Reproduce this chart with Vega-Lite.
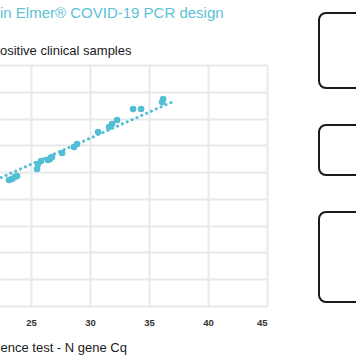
{
  "$schema": "https://vega.github.io/schema/vega-lite/v6.json",
  "padding": {"left": 0, "top": 6, "right": 0, "bottom": 0},
  "config": {"font": "Liberation Sans"},
  "title": {
    "text": "in Elmer® COVID-19 PCR design",
    "anchor": "start",
    "frame": "bounds",
    "fontSize": 15,
    "fontWeight": "normal",
    "color": "#5BC2D4",
    "offset": -9
  },
  "datasets": {
    "points": [
      {"ref": 23.13, "test": 23.53},
      {"ref": 23.39, "test": 23.71},
      {"ref": 23.64, "test": 24.09},
      {"ref": 23.81, "test": 24.27},
      {"ref": 25.51, "test": 25.58},
      {"ref": 25.59, "test": 26.51},
      {"ref": 25.85, "test": 27.07},
      {"ref": 26.44, "test": 27.26},
      {"ref": 26.61, "test": 27.45},
      {"ref": 26.78, "test": 27.82},
      {"ref": 27.63, "test": 28.57},
      {"ref": 28.65, "test": 29.69},
      {"ref": 28.90, "test": 30.25},
      {"ref": 30.68, "test": 32.49},
      {"ref": 31.62, "test": 33.42},
      {"ref": 31.87, "test": 33.98},
      {"ref": 32.29, "test": 34.73},
      {"ref": 33.65, "test": 36.78},
      {"ref": 34.33, "test": 36.78},
      {"ref": 36.11, "test": 38.09},
      {"ref": 36.20, "test": 38.65}
    ],
    "trend": [
      {"ref": 20.0, "test": 21.59},
      {"ref": 36.96, "test": 38.1}
    ]
  },
  "spacing": 51,
  "hconcat": [
    {
      "spacing": 31,
      "vconcat": [
        {"width": 267, "height": 1, "data": {"values": []}, "mark": "point", "encoding": {}, "view": {"stroke": null}},
        {
          "width": 267,
          "height": 241,
          "view": {"stroke": null},
          "title": {
            "text": "ositive clinical samples",
            "anchor": "start",
            "frame": "group",
            "fontSize": 13,
            "fontWeight": "normal",
            "color": "#1a1a1a",
            "offset": 7
          },
          "encoding": {
            "x": {
              "field": "ref", "type": "quantitative",
              "scale": {"domain": [22.37, 45], "nice": false, "zero": false},
              "axis": {
                "values": [25, 30, 35, 40, 45],
                "title": "ence test - N gene Cq",
                "titleAnchor": "start",
                "titleFontSize": 13,
                "titleFontWeight": "normal",
                "titleColor": "#1a1a1a",
                "titlePadding": 15,
                "domain": false,
                "ticks": false,
                "labelFontSize": 9.5,
                "labelFontWeight": "bold",
                "labelColor": "#333333",
                "labelPadding": 11,
                "grid": true,
                "gridColor": "#E6E9EA",
                "gridWidth": 2
              }
            },
            "y": {
              "field": "test", "type": "quantitative",
              "scale": {"domain": [0, 45], "nice": false},
              "axis": {
                "values": [0, 5, 10, 15, 20, 25, 30, 35, 40, 45],
                "title": null,
                "labels": false,
                "ticks": false,
                "domain": false,
                "grid": true,
                "gridColor": "#E6E9EA",
                "gridWidth": 2
              }
            }
          },
          "layer": [
            {
              "data": {"name": "trend"},
              "mark": {"type": "line", "clip": true, "color": "#52BED4", "strokeWidth": 3, "strokeDash": [0.1, 5.2], "strokeCap": "round"}
            },
            {
              "data": {"name": "points"},
              "mark": {"type": "circle", "clip": true, "size": 44, "opacity": 1, "color": "#52BED4"}
            }
          ]
        }
      ]
    },
    {
      "spacing": 35,
      "vconcat": [
        {"width": 60, "height": 75, "data": {"values": []}, "mark": "point", "encoding": {}, "view": {"stroke": "#1a1a1a", "strokeWidth": 2, "cornerRadius": 7}},
        {"width": 60, "height": 50, "data": {"values": []}, "mark": "point", "encoding": {}, "view": {"stroke": "#1a1a1a", "strokeWidth": 2, "cornerRadius": 7}},
        {"width": 60, "height": 90, "data": {"values": []}, "mark": "point", "encoding": {}, "view": {"stroke": "#1a1a1a", "strokeWidth": 2, "cornerRadius": 7}}
      ]
    }
  ]
}
